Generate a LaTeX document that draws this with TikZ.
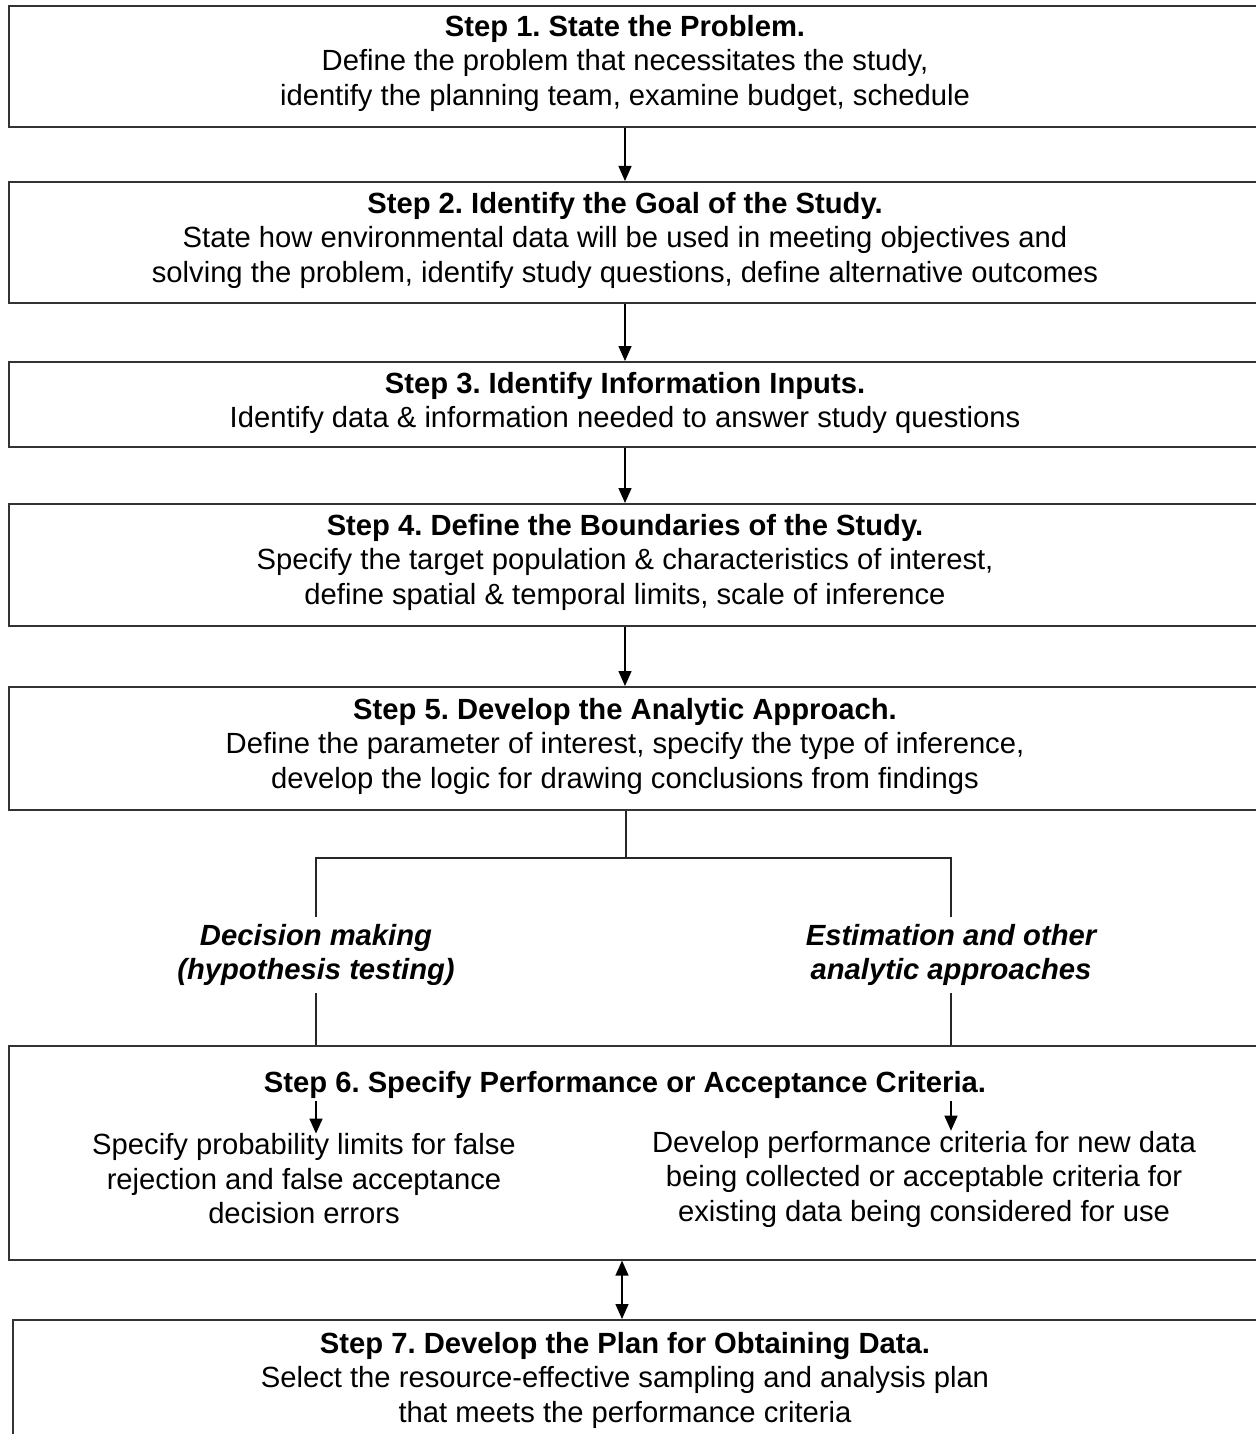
\documentclass[tikz,border=0pt]{standalone}
\usepackage{fontspec}
\setmainfont{Liberation Sans}
\usetikzlibrary{arrows.meta}
\begin{document}
\frenchspacing
\begin{tikzpicture}[x=1pt,y=-1pt,
  box/.style={draw=black!80, line width=1.6pt, anchor=north west, inner sep=0pt, minimum width=1300pt},
  txt/.style={align=center, font=\fontsize{29.2}{34.5}\selectfont, inner sep=0pt},
  lbl/.style={align=center, font=\fontsize{29.2}{34.5}\selectfont\bfseries\itshape, inner xsep=0pt, inner ysep=7pt},
  arr/.style={-{Triangle[length=15pt,width=13pt]}, line width=1.4pt},
  darr/.style={{Triangle[length=15pt,width=13pt]}-{Triangle[length=15pt,width=13pt]}, line width=1.4pt},
  ln/.style={line width=1.1pt, draw=black!85}]
\useasboundingbox (0,0) rectangle (1255,1434);
\fill[white] (0,0) rectangle (1255,1434);

% boxes
\node[box, minimum height=121pt] (b1) at (8,5) {};
\node[box, minimum height=121pt] (b2) at (8,181) {};
\node[box, minimum height=85pt]  (b3) at (8,361) {};
\node[box, minimum height=122pt] (b4) at (8,503) {};
\node[box, minimum height=123pt] (b5) at (8,686) {};
\node[box, minimum height=214pt] (b6) at (8,1045) {};
\node[box, minimum height=200pt] (b7) at (12,1319) {};

% texts
\node[txt] (t1) at (625,63) {\textbf{Step 1. State the Problem.}\\Define the problem that necessitates the study,\\identify the planning team, examine budget, schedule};
\node[txt] (t2) at (625,240) {\textbf{Step 2. Identify the Goal of the Study.}\\State how environmental data will be used in meeting objectives and\\solving the problem, identify study questions, define alternative outcomes};
\node[txt] (t3) at (625,403) {\textbf{Step 3. Identify Information Inputs.}\\Identify data \& information needed to answer study questions};
\node[txt] (t4) at (625,562) {\textbf{Step 4. Define the Boundaries of the Study.}\\Specify the target population \& characteristics of interest,\\define spatial \& temporal limits, scale of inference};
\node[txt] (t5) at (625,746) {\textbf{Step 5. Develop the Analytic Approach.}\\Define the parameter of interest, specify the type of inference,\\develop the logic for drawing conclusions from findings};
\node[txt] (t6) at (625,1085) {\textbf{Step 6. Specify Performance or Acceptance Criteria.}};
\node[txt] (l6) at (304,1179) {Specify probability limits for false\\rejection and false acceptance\\decision errors};
\node[txt] (r6) at (924,1179) {Develop performance criteria for new data\\being collected or acceptable criteria for\\existing data being considered for use};
\node[txt] (t7) at (625,1380) {\textbf{Step 7. Develop the Plan for Obtaining Data.}\\Select the resource-effective sampling and analysis plan\\that meets the performance criteria};

% labels
\node[lbl] (dl) at (316,955) {Decision making\\(hypothesis testing)};
\node[lbl] (er) at (951,955) {Estimation and other\\analytic approaches};

% connectors between steps
\draw[arr] (b1.south -| t1.center) -- (b2.north -| t1.center);
\draw[arr] (b2.south -| t2.center) -- (b3.north -| t2.center);
\draw[arr] (b3.south -| t3.center) -- (b4.north -| t3.center);
\draw[arr] (b4.south -| t4.center) -- (b5.north -| t4.center);

% tree
\coordinate (bar) at (626,858);
\draw[ln] (b5.south -| bar) -- (bar);
\draw[ln] (dl.north) -- (dl.north |- bar) -- (er.north |- bar) -- (er.north);
\draw[ln] (dl.south) -- (dl.south |- b6.north);
\draw[ln] (er.south) -- (er.south |- b6.north);

% step 6 inner arrows
\coordinate (al) at (316,1101);
\coordinate (ar) at (951,1101);
\draw[arr] (al) -- (al |- l6.north);
\draw[arr] (ar) -- (ar |- r6.north);

% step 6 <-> step 7
\coordinate (dx) at (622,0);
\draw[darr] (b6.south -| dx) -- (b7.north -| dx);
\end{tikzpicture}
\end{document}
